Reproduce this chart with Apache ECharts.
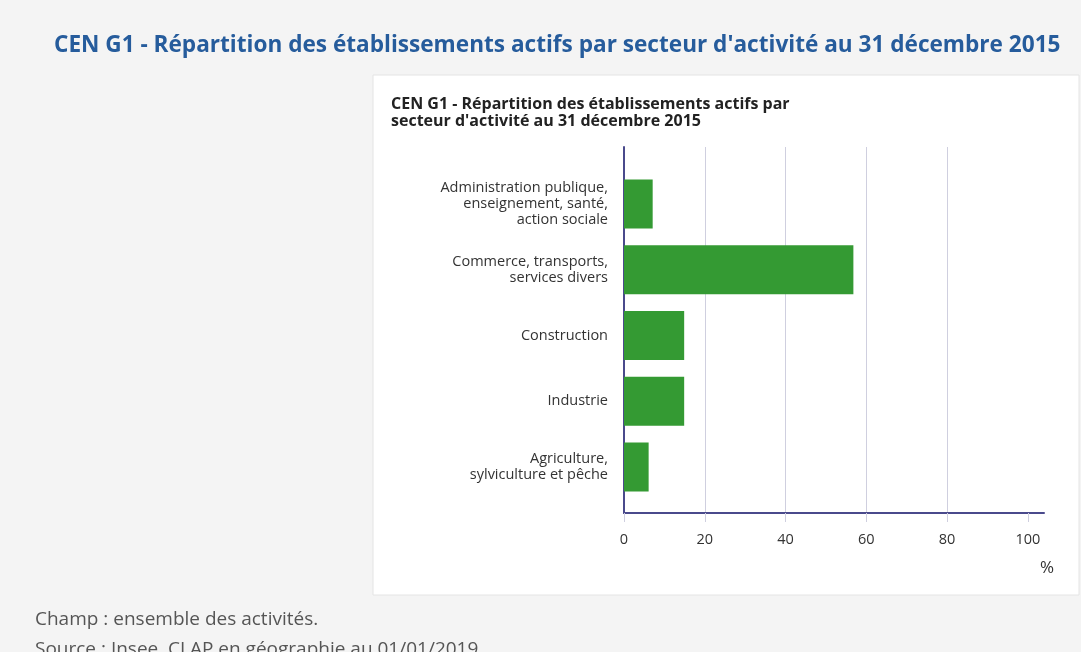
<!DOCTYPE html>
<html>
<head>
<meta charset="utf-8">
<script src="https://cdn.jsdelivr.net/npm/echarts@6/dist/echarts.min.js"></script>
<style>
html,body{margin:0;padding:0;background:#f4f4f4;}
#c{width:1081px;height:652px;}
</style>
</head>
<body>
<div id="c"></div>
<script>
const categories = [
  "Administration publique,\nenseignement, santé,\naction sociale",
  "Commerce, transports,\nservices divers",
  "Construction",
  "Industrie",
  "Agriculture,\nsylviculture et pêche"
];
const values = [7.1, 56.8, 14.9, 14.9, 6.1];
const xTicks = [0, 20, 40, 60, 80, 100];
const pageTitle = "CEN G1 - Répartition des établissements actifs par secteur d'activité au 31 décembre 2015";
const chartTitle = "CEN G1 - Répartition des établissements actifs par\nsecteur d'activité au 31 décembre 2015";
const notes = ["Champ : ensemble des activités.", "Source : Insee, CLAP en géographie au 01/01/2019 ."];
const unit = "%";

const FONT = "'Open Sans', 'Noto Sans', sans-serif";
const AXIS_COLOR = '#4a4a8c';
const GRID_COLOR = '#cfcfdf';

const chart = echarts.init(document.getElementById('c'));
chart.setOption({
  backgroundColor: '#f4f4f4',
  animation: false,
  textStyle: { fontFamily: FONT },
  graphic: [
    { type: 'rect', z: -10, shape: { x: 373, y: 75, width: 706, height: 520 },
      style: { fill: '#ffffff', stroke: '#e4e4e4', lineWidth: 1 } },
    { type: 'text', left: 1040, top: 560,
      style: { text: unit, fontSize: 17, fill: '#333333', fontFamily: FONT } }
  ],
  title: [
    { text: pageTitle, left: 49, top: 29,
      textStyle: { color: '#265c9c', fontSize: 22.6, fontWeight: 'bold', fontFamily: FONT } },
    { text: chartTitle, left: 386, top: 91,
      textStyle: { color: '#222222', fontSize: 16, fontWeight: 'bold', lineHeight: 17, fontFamily: FONT } },
    { text: notes[0], left: 30, top: 605,
      textStyle: { color: '#555555', fontSize: 19, fontWeight: 'normal', fontFamily: FONT } },
    { text: notes[1], left: 30, top: 635,
      textStyle: { color: '#555555', fontSize: 19, fontWeight: 'normal', fontFamily: FONT } }
  ],
  grid: [
    { left: 624, top: 147, width: 420, height: 366 },
    { left: 624, top: 171, width: 420, height: 329 }
  ],
  xAxis: [
    { type: 'value', gridIndex: 0, min: 0, max: 104, interval: 20,
      axisLine: { show: true, lineStyle: { color: AXIS_COLOR, width: 2 } },
      axisTick: { show: true, length: 9, lineStyle: { color: GRID_COLOR }, customValues: xTicks },
      axisLabel: { color: '#333333', fontSize: 14.5, margin: 19, customValues: xTicks, fontFamily: FONT },
      splitLine: { show: true, showMaxLine: false, lineStyle: { color: GRID_COLOR, width: 1 } } },
    { type: 'value', gridIndex: 1, min: 0, max: 104, show: false,
      splitLine: { show: false } }
  ],
  yAxis: [
    { type: 'category', gridIndex: 0, data: [''],
      axisLine: { show: true, lineStyle: { color: AXIS_COLOR, width: 2 } },
      axisTick: { show: false }, axisLabel: { show: false }, splitLine: { show: false } },
    { type: 'category', gridIndex: 1, data: categories, inverse: true,
      axisLine: { show: false }, axisTick: { show: false },
      axisLabel: { color: '#333333', fontSize: 14.5, lineHeight: 16, margin: 16, align: 'right', fontFamily: FONT } }
  ],
  series: [
    { type: 'bar', xAxisIndex: 1, yAxisIndex: 1, data: values, barWidth: 49,
      itemStyle: { color: '#349a33' } }
  ]
});
</script>
</body>
</html>
